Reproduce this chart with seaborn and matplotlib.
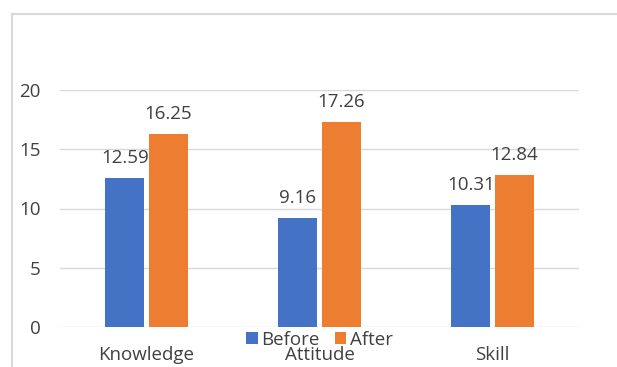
import matplotlib
matplotlib.use("Agg")
import matplotlib.pyplot as plt
import seaborn as sns
import pandas as pd
from matplotlib.patches import Rectangle

categories = ["Knowledge", "Attitude", "Skill"]
before = [12.59, 9.16, 10.31]
after = [16.25, 17.26, 12.84]
series = ["Before", "After"]
colors = ["#4472C4", "#ED7D31"]

df = pd.DataFrame({
    "category": categories * 2,
    "score": before + after,
    "when": [series[0]] * 3 + [series[1]] * 3,
})

sns.set_theme(style="white")
plt.rcParams["font.family"] = ["Open Sans", "DejaVu Sans"]
text_color = "#404040"
fs = 13.5

fig = plt.figure(figsize=(6.17, 3.67), dpi=100)
ax = fig.add_axes([60 / 617, 1 - 327 / 367, (579 - 60) / 617, (327 - 90) / 367])

sns.barplot(data=df, x="category", y="score", hue="when", palette=colors,
            width=0.504, gap=0.1, ax=ax, legend=True, saturation=1, linewidth=0)

ax.set_ylim(0, 20)
ax.set_yticks([0, 5, 10, 15, 20])
ax.yaxis.grid(True, color="#d9d9d9", linewidth=1)
ax.set_axisbelow(True)
for s in ax.spines.values():
    s.set_visible(False)
ax.set_xlabel("")
ax.set_ylabel("")
ax.tick_params(axis="both", length=0, labelsize=fs, colors=text_color)
ax.tick_params(axis="y", pad=14)
ax.tick_params(axis="x", pad=14)

for cont in ax.containers:
    ax.bar_label(cont, labels=[f"{v:.2f}" for v in cont.datavalues],
                 padding=8, fontsize=fs, color=text_color)

ax.legend(loc="center", bbox_to_anchor=(0.5, -0.055), ncol=2, frameon=False,
          fontsize=fs, handlelength=0.6, handleheight=0.6, handletextpad=0.2,
          columnspacing=0.8, labelcolor=text_color, borderpad=0)

# light outer frame
fig.patches.append(Rectangle((12 / 617, -0.1), 1.2, 1 - 14 / 367 + 0.1,
                             transform=fig.transFigure, fill=False,
                             edgecolor="#d9d9d9", linewidth=1.5))

fig.savefig("out.png", dpi=100)
